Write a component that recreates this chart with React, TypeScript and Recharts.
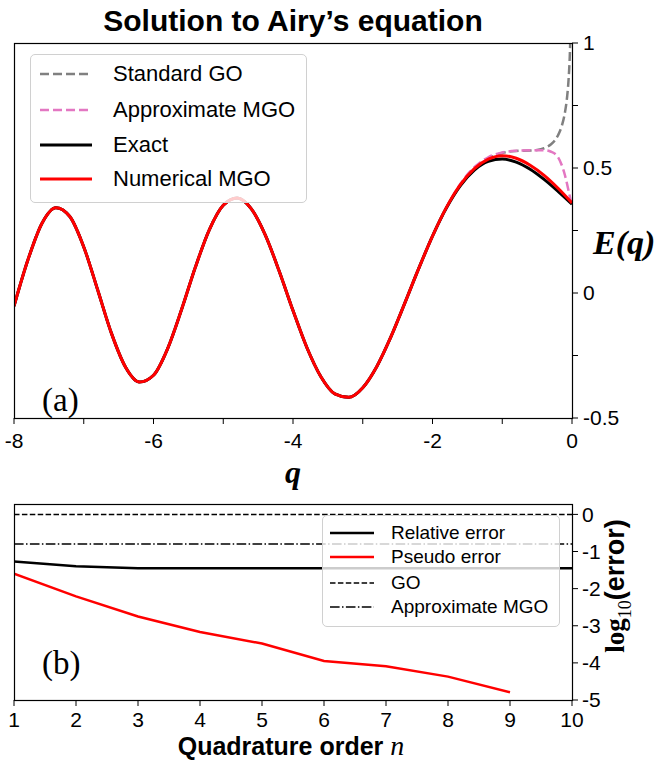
import React from 'react';
import { LineChart, Line, XAxis, YAxis } from 'recharts';

// ---- panel (a): E(q) along q ----
const qGrid = [
  -8, -7.8, -7.6, -7.4, -7.2, -7, -6.8, -6.6, -6.4, -6.2,
  -6, -5.8, -5.6, -5.4, -5.2, -5, -4.8, -4.6, -4.4, -4.2,
  -4, -3.8, -3.6, -3.4, -3.2, -3, -2.8, -2.6, -2.4, -2.2,
  -2, -1.8, -1.6, -1.4, -1.2, -1, -0.8, -0.6, -0.4, -0.2, 0,
];
const exactE = [
  -0.0527, 0.1329, 0.2783, 0.3413, 0.3058, 0.1843, 0.0121, -0.1635, -0.2971, -0.3564,
  -0.3291, -0.2243, -0.0683, 0.103, 0.2526, 0.3508, 0.38, 0.3375, 0.2336, 0.0891,
  -0.0703, -0.2189, -0.3348, -0.4032, -0.4173, -0.3788, -0.2947, -0.1778, -0.0425, 0.0963,
  0.2274, 0.3408, 0.4299, 0.4917, 0.5262, 0.5356, 0.5236, 0.4949, 0.4542, 0.4063, 0.355,
];
// numerical MGO sits on the exact curve until q = -2, then a little above it
const numericalMgoE = [
  ...exactE.slice(0, 31),
  0.3425, 0.4335, 0.4975, 0.5355, 0.5495, 0.539, 0.511, 0.4705, 0.419, 0.36,
];
// standard GO blows up at the turning point q = 0
const standardGoQ = [
  ...qGrid.slice(0, 34),
  -1.2, -1, -0.8, -0.6, -0.5, -0.4, -0.3, -0.25, -0.2, -0.15, -0.1, -0.07, -0.05, -0.03, -0.02,
];
const standardGoE = [
  ...exactE.slice(0, 34),
  0.537, 0.56, 0.568, 0.57, 0.572, 0.579, 0.595, 0.609, 0.631, 0.665, 0.724, 0.785, 0.85, 0.962, 1.063,
];
const approxMgoQ = [
  ...qGrid.slice(0, 32),
  -1.6, -1.4, -1.2, -1, -0.8, -0.6, -0.4, -0.3, -0.2, -0.1, -0.05, 0,
];
const approxMgoE = [
  ...exactE.slice(0, 32),
  0.437, 0.503, 0.543, 0.562, 0.569, 0.571, 0.571, 0.565, 0.543, 0.47, 0.41, 0.345,
];
const qTicks = [-8, -7, -6, -5, -4, -3, -2, -1, 0];
const eTicks = [-0.5, -0.25, 0, 0.25, 0.5, 0.75, 1];
const eTickLabels: Record<string, string> = { '-0.5': '-0.5', '0': '0', '0.5': '0.5', '1': '1' };

// ---- panel (b): log10 error vs quadrature order ----
const orders = [1, 2, 3, 4, 5, 6, 7, 8, 9, 10];
const relativeError = [-1.27, -1.4, -1.45, -1.45, -1.45, -1.45, -1.45, -1.45, -1.45, -1.45];
const pseudoOrders = [1, 2, 3, 4, 5, 6, 7, 8, 9];
const pseudoError = [-1.6, -2.21, -2.75, -3.17, -3.48, -3.95, -4.09, -4.37, -4.79];
const goError = [0, 0, 0, 0, 0, 0, 0, 0, 0, 0];
const approxMgoError = [-0.8, -0.8, -0.8, -0.8, -0.8, -0.8, -0.8, -0.8, -0.8, -0.8];
const errTicks = [-5, -4, -3, -2, -1, 0];

const toRows = (xs: number[], ys: number[]) => xs.map((x, i) => ({ x, y: ys[i] }));

const SANS = "'Liberation Sans', Arial, sans-serif";
const SERIF = "'Liberation Serif', 'DejaVu Serif', serif";
const tickStyle = { fill: '#000', fontSize: 21, fontFamily: SANS };

const GREY = '#808080';
const PINK = '#e377c2';

type LegendRow = { label: string; color: string; width: number; dash?: string };

const LegendBox = ({ left, top, width, height, rows, rowTops, fontSize, sample }: {
  left: number; top: number; width: number; height: number; rows: LegendRow[];
  rowTops: number[]; fontSize: number; sample: [number, number, number];
}) => (
  <div style={{
    position: 'absolute', left, top, width, height, boxSizing: 'border-box',
    background: 'rgba(255,255,255,0.8)', border: '1px solid #d0d0d0', borderRadius: 5,
  }}>
    {rows.map((r, i) => (
      <React.Fragment key={r.label}>
        <svg style={{ position: 'absolute', left: sample[0] - left, top: rowTops[i] - top - 5 }} width={sample[1] - sample[0]} height={10}>
          <line x1={0} y1={5} x2={sample[1] - sample[0]} y2={5} stroke={r.color} strokeWidth={r.width} strokeDasharray={r.dash} />
        </svg>
        <div style={{
          position: 'absolute', left: sample[2] - left, top: rowTops[i] - top - fontSize * 0.6,
          fontSize, fontFamily: SANS, lineHeight: `${fontSize * 1.2}px`, whiteSpace: 'nowrap', color: '#000',
        }}>{r.label}</div>
      </React.Fragment>
    ))}
  </div>
);

const Frame = ({ left, top, width, height }: { left: number; top: number; width: number; height: number }) => (
  <svg style={{ position: 'absolute', left: 0, top: 0, pointerEvents: 'none' }} width={660} height={762}>
    <rect x={left + 0.5} y={top + 0.5} width={width} height={height} fill="none" stroke="#000" strokeWidth={1.2} />
  </svg>
);

const TopPanel = () => (
  <div style={{ position: 'absolute', left: 0, top: 0 }}>
    <LineChart width={660} height={460} margin={{ top: 43, right: 28, bottom: 12, left: 14 }}>
      <XAxis
        type="number" dataKey="x" domain={[-8, 0]} ticks={qTicks} interval={0} allowDataOverflow
        axisLine={false} tickLine={{ stroke: '#000' }} tickSize={6} tickMargin={9} height={30}
        tick={tickStyle} tickFormatter={(v: number) => (v % 2 === 0 ? String(v) : '')}
      />
      <YAxis
        orientation="right" type="number" domain={[-0.5, 1]} ticks={eTicks} interval={0} allowDataOverflow
        axisLine={false} tickLine={{ stroke: '#000' }} tickSize={6} tickMargin={5} width={60}
        tick={tickStyle} tickFormatter={(v: number) => eTickLabels[String(v)] ?? ''}
      />
      <Line data={toRows(standardGoQ, standardGoE)} dataKey="y" type="monotone" stroke={GREY} strokeWidth={2.5} strokeDasharray="9 4" dot={false} isAnimationActive={false} />
      <Line data={toRows(approxMgoQ, approxMgoE)} dataKey="y" type="monotone" stroke={PINK} strokeWidth={2.5} strokeDasharray="9 4" dot={false} isAnimationActive={false} />
      <Line data={toRows(qGrid, exactE)} dataKey="y" type="monotone" stroke="#000" strokeWidth={3} dot={false} isAnimationActive={false} />
      <Line data={toRows(qGrid, numericalMgoE)} dataKey="y" type="monotone" stroke="#ff0000" strokeWidth={3} dot={false} isAnimationActive={false} />
    </LineChart>
  </div>
);

const BottomPanel = () => (
  <div style={{ position: 'absolute', left: 0, top: 460 }}>
    <LineChart width={660} height={302} margin={{ top: 44, right: 28, bottom: 32, left: 14 }}>
      <XAxis
        type="number" dataKey="x" domain={[1, 10]} ticks={orders} interval={0} allowDataOverflow
        axisLine={false} tickLine={{ stroke: '#000' }} tickSize={6} tickMargin={6} height={30}
        tick={tickStyle}
      />
      <YAxis
        orientation="right" type="number" domain={[-5, 0.28]} ticks={errTicks} interval={0} allowDataOverflow
        axisLine={false} tickLine={{ stroke: '#000' }} tickSize={6} tickMargin={4} width={60}
        tick={tickStyle}
      />
      <Line data={toRows(orders, goError)} dataKey="y" type="linear" stroke="#000" strokeWidth={1.5} strokeDasharray="5.5 2.4" dot={false} isAnimationActive={false} />
      <Line data={toRows(orders, approxMgoError)} dataKey="y" type="linear" stroke="#000" strokeWidth={1.5} strokeDasharray="9.6 2.4 1.5 2.4" dot={false} isAnimationActive={false} />
      <Line data={toRows(orders, relativeError)} dataKey="y" type="linear" stroke="#000" strokeWidth={2.5} dot={false} isAnimationActive={false} />
      <Line data={toRows(pseudoOrders, pseudoError)} dataKey="y" type="linear" stroke="#ff0000" strokeWidth={2.5} dot={false} isAnimationActive={false} />
    </LineChart>
  </div>
);

const text = (style: React.CSSProperties, content: React.ReactNode) => (
  <div style={{ position: 'absolute', whiteSpace: 'nowrap', color: '#000', lineHeight: 1, ...style }}>{content}</div>
);

export default function App() {
  return (
    <div style={{ position: 'absolute', left: 0, top: 0, width: 660, height: 762, background: '#fff', overflow: 'hidden' }}>
      <TopPanel />
      <BottomPanel />
      <Frame left={14} top={43} width={558} height={375} />
      <Frame left={14} top={504} width={558} height={196} />

      {text({ left: 293, top: 6, transform: 'translateX(-50%)', fontFamily: SANS, fontWeight: 700, fontSize: 30 }, 'Solution to Airy’s equation')}
      {text({ left: 293, top: 456, transform: 'translateX(-50%)', fontFamily: SERIF, fontWeight: 700, fontStyle: 'italic', fontSize: 32 }, 'q')}
      {text({ left: 593, top: 226, fontFamily: SERIF, fontWeight: 700, fontStyle: 'italic', fontSize: 34 }, 'E(q)')}
      {text({ left: 42, top: 384, fontFamily: SERIF, fontSize: 33 }, '(a)')}
      {text({ left: 42, top: 647, fontFamily: SERIF, fontSize: 33 }, '(b)')}
      {text({ left: 291, top: 732, transform: 'translateX(-50%)', fontFamily: SANS, fontWeight: 700, fontSize: 25 },
        <>Quadrature order <span style={{ fontFamily: SERIF, fontStyle: 'italic', fontWeight: 400, fontSize: 28 }}>n</span></>)}
      {text({ left: 618, top: 586, transform: 'translate(-50%, -50%) rotate(-90deg)', fontSize: 27 },
        <><span style={{ fontFamily: SERIF, fontWeight: 700 }}>log</span><sub style={{ fontFamily: SERIF, fontSize: 18 }}>10</sub><span style={{ fontFamily: SANS, fontWeight: 700 }}>(error)</span></>)}

      <LegendBox
        left={30} top={54} width={277} height={149} fontSize={22} sample={[39, 91, 112]}
        rowTops={[73, 109, 144, 178]}
        rows={[
          { label: 'Standard GO', color: GREY, width: 2.5, dash: '9 4' },
          { label: 'Approximate MGO', color: PINK, width: 2.5, dash: '9 4' },
          { label: 'Exact', color: '#000', width: 3 },
          { label: 'Numerical MGO', color: '#ff0000', width: 3 },
        ]}
      />
      <LegendBox
        left={322} top={515} width={238} height={112} fontSize={19} sample={[329, 373, 390]}
        rowTops={[532, 556, 582, 606]}
        rows={[
          { label: 'Relative error', color: '#000', width: 2.5 },
          { label: 'Pseudo error', color: '#ff0000', width: 2.5 },
          { label: 'GO', color: '#000', width: 1.5, dash: '5.5 2.4' },
          { label: 'Approximate MGO', color: '#000', width: 1.5, dash: '9.6 2.4 1.5 2.4' },
        ]}
      />
    </div>
  );
}
